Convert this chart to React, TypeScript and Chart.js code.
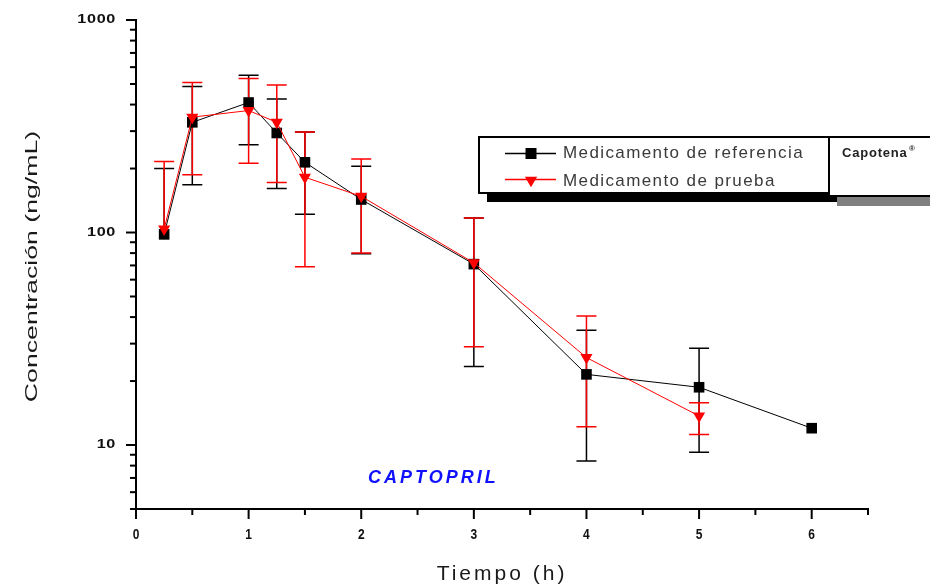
import React, { useEffect, useRef } from "react";
import { Chart, registerables } from "chart.js";

Chart.register(...registerables);

// ---- Data ----
const TIME_REF = [0.25, 0.5, 1, 1.25, 1.5, 2, 3, 4, 5, 6];
const CONC_REF = [98, 330, 409, 294, 214, 143, 71, 21.5, 18.7, 12.0];
const REF_HIGH = [200, 486, 550, 425, 297, 205, 117, 34.7, 28.5, null];
const REF_LOW = [null, 168, 259, 161, 122, 79.4, 23.4, 8.4, 9.25, null];

const TIME_TEST = [0.25, 0.5, 1, 1.25, 1.5, 2, 3, 4, 5];
const CONC_TEST = [104, 349, 375, 330, 182, 148, 72, 25.8, 13.7];
const TEST_HIGH = [216, 508, 530, 495, 297, 222, 117, 40.5, 15.8];
const TEST_LOW = [null, 187, 212, 172, 69, 80, 29, 12.2, 11.2];

const X_TICKS = [0, 1, 2, 3, 4, 5, 6];
const X_MINOR = [0.5, 1.5, 2.5, 3.5, 4.5, 5.5, 6.5];
const Y_TICKS = [10, 100, 1000];
const Y_MIN = 5;
const Y_MAX = 1000;
const X_MIN = 0;
const X_MAX = 6.5;

const LABEL_REF = "Medicamento de referencia";
const LABEL_TEST = "Medicamento de prueba";
const LEGEND_TITLE = "Capotena";
const X_TITLE = "Tiempo (h)";
const Y_TITLE = "Concentración (ng/mL)";
const ANNOTATION = "CAPTOPRIL";
const ANNOTATION_POS = { x: 2.64, y: 7.0 };

const FONT = "'Liberation Sans', Arial, sans-serif";

type TextOpts = {
  font: string;
  color: string;
  align?: CanvasTextAlign;
  baseline?: CanvasTextBaseline;
  sx?: number;
  sy?: number;
  rot?: number;
  spacing?: number;
};

function drawText(ctx: CanvasRenderingContext2D, text: string, x: number, y: number, o: TextOpts) {
  ctx.save();
  ctx.translate(x, y);
  if (o.rot) ctx.rotate(o.rot);
  ctx.scale(o.sx ?? 1, o.sy ?? 1);
  ctx.font = o.font;
  ctx.fillStyle = o.color;
  ctx.textAlign = o.align ?? "center";
  ctx.textBaseline = o.baseline ?? "middle";
  (ctx as any).letterSpacing = (o.spacing ?? 0) + "px";
  ctx.fillText(text, 0, 0);
  ctx.restore();
}

const errorBarPlugin = {
  id: "errorBars",
  beforeDatasetsDraw(chart: any) {
    const ctx: CanvasRenderingContext2D = chart.ctx;
    const xs = chart.scales.x;
    const ys = chart.scales.y;
    const groups = [
      { t: TIME_REF, v: CONC_REF, hi: REF_HIGH, lo: REF_LOW, color: "#000000" },
      { t: TIME_TEST, v: CONC_TEST, hi: TEST_HIGH, lo: TEST_LOW, color: "#ff0000" },
    ];
    const cap = 10;
    ctx.save();
    ctx.lineWidth = 1.5;
    for (const g of groups) {
      ctx.strokeStyle = g.color;
      for (let i = 0; i < g.t.length; i++) {
        const hi = g.hi[i];
        if (hi == null) continue;
        const x = xs.getPixelForValue(g.t[i]);
        const yTop = ys.getPixelForValue(hi);
        const lo = g.lo[i];
        const yBot = ys.getPixelForValue(lo != null ? lo : g.v[i]);
        ctx.beginPath();
        ctx.moveTo(x, yTop);
        ctx.lineTo(x, yBot);
        ctx.moveTo(x - cap, yTop);
        ctx.lineTo(x + cap, yTop);
        if (lo != null) {
          ctx.moveTo(x - cap, yBot);
          ctx.lineTo(x + cap, yBot);
        }
        ctx.stroke();
      }
    }
    ctx.restore();
  },
};

const decorPlugin = {
  id: "decor",
  afterDraw(chart: any) {
    const ctx: CanvasRenderingContext2D = chart.ctx;
    const xs = chart.scales.x;
    const ys = chart.scales.y;
    const area = chart.chartArea;
    ctx.save();
    ctx.strokeStyle = "#000";
    ctx.lineWidth = 2;
    // y ticks
    for (let d = 1; d <= 1000; d *= 10) {
      for (let m = 1; m <= 9; m++) {
        const v = m * d;
        if (v < Y_MIN || v > Y_MAX) continue;
        const y = ys.getPixelForValue(v);
        const len = m === 1 ? 10 : 6;
        ctx.beginPath();
        ctx.moveTo(area.left - len, y);
        ctx.lineTo(area.left, y);
        ctx.stroke();
      }
    }
    // x ticks
    for (const v of X_TICKS) {
      const x = xs.getPixelForValue(v);
      ctx.beginPath();
      ctx.moveTo(x, area.bottom);
      ctx.lineTo(x, area.bottom + 10);
      ctx.stroke();
    }
    for (const v of X_MINOR) {
      const x = xs.getPixelForValue(v);
      ctx.beginPath();
      ctx.moveTo(x, area.bottom);
      ctx.lineTo(x, area.bottom + 6);
      ctx.stroke();
    }
    ctx.restore();

    // tick labels
    for (const v of Y_TICKS) {
      drawText(ctx, String(v), area.left - 20, ys.getPixelForValue(v), {
        font: `bold 12px ${FONT}`,
        color: "#111",
        align: "right",
        sx: 1.35,
        spacing: 0.5,
      });
    }
    for (const v of X_TICKS) {
      drawText(ctx, String(v), xs.getPixelForValue(v), area.bottom + 26, {
        font: `bold 12px ${FONT}`,
        color: "#111",
        sy: 1.2,
      });
    }

    // axis titles
    drawText(ctx, X_TITLE, (area.left + area.right) / 2, 574, {
      font: `21px ${FONT}`,
      color: "#1a1a1a",
      spacing: 3,
    });
    drawText(ctx, Y_TITLE, 32, (area.top + area.bottom) / 2 + 2, {
      font: `17px ${FONT}`,
      color: "#1a1a1a",
      rot: -Math.PI / 2,
      sx: 1.57,
    });

    // annotation
    drawText(ctx, ANNOTATION, xs.getPixelForValue(ANNOTATION_POS.x), ys.getPixelForValue(ANNOTATION_POS.y), {
      font: `italic bold 18px ${FONT}`,
      color: "#1010ff",
      spacing: 3,
    });

    // legend
    ctx.save();
    ctx.fillStyle = "#000";
    ctx.fillRect(487, 193, 351, 9);
    ctx.fillStyle = "#808080";
    ctx.fillRect(837, 196, 110, 10);
    ctx.lineWidth = 2;
    ctx.strokeStyle = "#000";
    ctx.fillStyle = "#fff";
    ctx.fillRect(479, 137, 350, 56);
    ctx.strokeRect(479, 137, 350, 56);
    ctx.fillRect(829, 137, 120, 59);
    ctx.strokeRect(829, 137, 120, 59);

    // row 1 symbol
    ctx.lineWidth = 1.5;
    ctx.strokeStyle = "#000";
    ctx.beginPath();
    ctx.moveTo(505, 153.5);
    ctx.lineTo(556, 153.5);
    ctx.stroke();
    ctx.fillStyle = "#000";
    ctx.fillRect(531 - 5.5, 153.5 - 5.5, 11, 11);
    // row 2 symbol
    ctx.strokeStyle = "#ff0000";
    ctx.beginPath();
    ctx.moveTo(505, 179.5);
    ctx.lineTo(556, 179.5);
    ctx.stroke();
    ctx.fillStyle = "#ff0000";
    ctx.beginPath();
    ctx.moveTo(531 - 6.1, 176.7);
    ctx.lineTo(531 + 6.1, 176.7);
    ctx.lineTo(531, 187.3);
    ctx.closePath();
    ctx.fill();
    ctx.restore();

    drawText(ctx, LABEL_REF, 563, 153.5, {
      font: `17px ${FONT}`,
      color: "#3a3a3a",
      align: "left",
      spacing: 1.4,
    });
    drawText(ctx, LABEL_TEST, 563, 181.5, {
      font: `17px ${FONT}`,
      color: "#3a3a3a",
      align: "left",
      spacing: 1.4,
    });
    drawText(ctx, LEGEND_TITLE, 842, 153, {
      font: `bold 13px ${FONT}`,
      color: "#222",
      align: "left",
      spacing: 0.8,
    });
    drawText(ctx, "®", 909, 149, {
      font: `bold 8px ${FONT}`,
      color: "#222",
      align: "left",
    });
  },
};

export default function App() {
  const canvasRef = useRef<HTMLCanvasElement | null>(null);

  useEffect(() => {
    if (!canvasRef.current) return;
    const chart = new Chart(canvasRef.current, {
      type: "line",
      data: {
        datasets: [
          {
            label: LABEL_REF,
            data: TIME_REF.map((t, i) => ({ x: t, y: CONC_REF[i] })),
            borderColor: "#000000",
            backgroundColor: "#000000",
            borderWidth: 1,
            pointStyle: "rect",
            pointRadius: 7.5,
            pointBorderWidth: 0,
            order: 2,
          },
          {
            label: LABEL_TEST,
            data: TIME_TEST.map((t, i) => ({ x: t, y: CONC_TEST[i] })),
            borderColor: "#ff0000",
            backgroundColor: "#ff0000",
            borderWidth: 1,
            pointStyle: "triangle",
            pointRotation: 180,
            pointRadius: 7,
            pointBorderWidth: 0,
            order: 1,
          },
        ],
      },
      options: {
        animation: false,
        responsive: true,
        maintainAspectRatio: false,
        layout: { padding: { left: 0, top: 20, right: 62, bottom: 0 } },
        plugins: {
          legend: { display: false },
          tooltip: { enabled: false },
        },
        scales: {
          x: {
            type: "linear",
            min: X_MIN,
            max: X_MAX,
            ticks: { display: false },
            grid: { display: false },
            border: { display: true, color: "#000", width: 2 },
            afterFit: (s: any) => {
              s.height = 79;
            },
          },
          y: {
            type: "logarithmic",
            min: Y_MIN,
            max: Y_MAX,
            ticks: { display: false },
            grid: { display: false },
            border: { display: true, color: "#000", width: 2 },
            afterFit: (s: any) => {
              s.width = 136;
            },
          },
        },
      },
      plugins: [errorBarPlugin, decorPlugin],
    } as any);
    return () => chart.destroy();
  }, []);

  return (
    <div style={{ position: "absolute", left: 0, top: 0, width: 930, height: 588, background: "#fff" }}>
      <canvas ref={canvasRef} />
    </div>
  );
}
